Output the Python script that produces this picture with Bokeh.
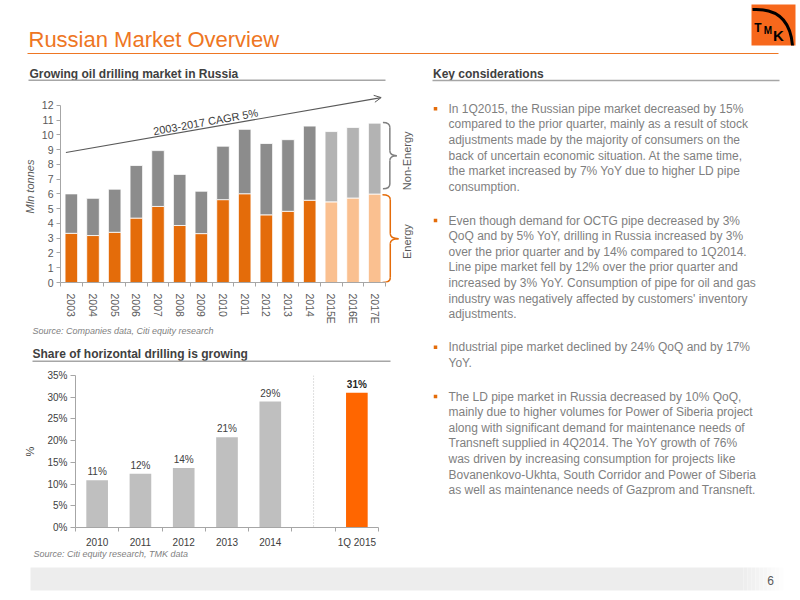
import math
from bokeh.plotting import figure
from bokeh.layouts import column, row
from bokeh.models import Range1d, FixedTicker, Span, Arrow, OpenHead, PrintfTickFormatter
from bokeh.core.properties import value
from bokeh.embed import file_html
from bokeh.resources import INLINE

FONT = "Liberation Sans"

# ---------------- data ----------------
years = ["2003", "2004", "2005", "2006", "2007", "2008", "2009", "2010",
         "2011", "2012", "2013", "2014", "2015E", "2016E", "2017E"]
energy = [3.33, 3.18, 3.40, 4.36, 5.15, 3.86, 3.31, 5.61, 6.01, 4.58, 4.82, 5.57, 5.46, 5.72, 5.99]
non_energy = [2.67, 2.52, 2.92, 3.56, 3.78, 3.46, 2.87, 3.62, 4.36, 4.83, 4.85, 5.02, 4.76, 4.78, 4.80]
y1_ticks = list(range(0, 13))

share_cats = ["2010", "2011", "2012", "2013", "2014", "", "1Q 2015"]
share_vals = [10.9, 12.4, 13.7, 20.8, 29.0, 31.0]
y2_ticks = list(range(0, 36, 5))

cagr_label = "2003-2017 CAGR 5%"

bullets = [
    ["In 1Q2015, the Russian pipe market decreased by 15%",
     "compared to the prior quarter, mainly as a result of stock",
     "adjustments made by the majority of consumers on the",
     "back of uncertain economic situation. At the same time,",
     "the market increased by 7% YoY due to higher LD pipe",
     "consumption."],
    ["Even though demand for OCTG pipe decreased by 3%",
     "QoQ and by 5% YoY, drilling in Russia increased by 3%",
     "over the prior quarter and by 14% compared to 1Q2014.",
     "Line pipe market fell by 12% over the prior quarter and",
     "increased by 3% YoY. Consumption of pipe for oil and gas",
     "industry was negatively affected by customers' inventory",
     "adjustments."],
    ["Industrial pipe market declined by 24% QoQ and by 17%",
     "YoY."],
    ["The LD pipe market in Russia decreased by 10% QoQ,",
     "mainly due to higher volumes for Power of Siberia project",
     "along with significant demand for maintenance needs of",
     "Transneft supplied in 4Q2014. The YoY growth of 76%",
     "was driven by increasing consumption for projects like",
     "Bovanenkovo-Ukhta, South Corridor and Power of Siberia",
     "as well as maintenance needs of Gazprom and Transneft."],
]

# ---------------- styles ----------------
TITLE_OR = "#EE7623"
HEAD = "#404040"
RULE = "#A6A6A6"
BODY = "#7F7F7F"
ORANGE = "#E46C0A"
ORANGE_LT = "#FAC090"
GRAY = "#8C8C8C"
GRAY_LT = "#B3B3B3"
BAR2 = "#BFBFBF"
BAR2_HI = "#FF6600"
TICK_C = "#595959"


def canvas(w, h):
    p = figure(width=w, height=h, x_range=Range1d(0, w), y_range=Range1d(h, 0),
               x_axis_type=None, y_axis_type=None, toolbar_location=None, tools="",
               output_backend="svg", min_border=0, frame_align=False)
    p.outline_line_color = None
    return p


def txt(p, x, y, s, size, color, style="normal", align="left", baseline="middle", angle=0.0):
    p.text(x=[x], y=[y], text=[s], text_font=value(FONT), text_font_size=f"{size}px",
           text_color=color, text_font_style=style, text_align=align,
           text_baseline=baseline, angle=angle)


# ---------------- header (page coordinates) ----------------
hdr = canvas(800, 86)
txt(hdr, 28, 38.5, "Russian Market Overview", 22, TITLE_OR)
hdr.line([27, 778], [53, 53], line_color=TITLE_OR, line_width=1)
# logo
hdr.quad(left=[751], right=[795], top=[4], bottom=[45], fill_color="#F7681C", line_color=None)
hdr.quadratic(x0=[752], y0=[9], x1=[792], y1=[45], cx=[789], cy=[7], line_color="black", line_width=3)
txt(hdr, 757.5, 27.5, "T", 12, "black", "bold", "center")
txt(hdr, 767.5, 30, "M", 10, "black", "bold", "center")
txt(hdr, 778, 35, "K", 15, "black", "bold", "center")
# section headings
txt(hdr, 29, 73, "Growing oil drilling market in Russia", 12, HEAD, "bold")
hdr.line([28, 385], [79.8, 79.8], line_color=RULE, line_width=1.5)
txt(hdr, 432.5, 73, "Key considerations", 12, HEAD, "bold")
hdr.line([432, 779], [80, 80], line_color=RULE, line_width=1.5)

# ---------------- chart 1 ----------------
n = len(years)
idx = list(range(n))
p1 = figure(width=420, height=240, x_range=Range1d(-0.5, 15.93), y_range=Range1d(0, 13),
            toolbar_location=None, tools="", output_backend="svg", frame_align=False,
            min_border_left=60, min_border_right=4, min_border_top=4, min_border_bottom=39)
p1.outline_line_color = None
p1.grid.visible = False

forecast = [y.endswith("E") for y in years]
e_col = [ORANGE_LT if f else ORANGE for f in forecast]
n_col = [GRAY_LT if f else GRAY for f in forecast]
tops = [e + ne for e, ne in zip(energy, non_energy)]
p1.vbar(x=idx, bottom=0, top=energy, width=0.58, fill_color=e_col, line_color="white", line_width=0.8)
p1.vbar(x=idx, bottom=energy, top=tops, width=0.58, fill_color=n_col, line_color="white", line_width=0.8)

xa = p1.xaxis[0]
xa.ticker = FixedTicker(ticks=idx, minor_ticks=[i - 0.5 for i in range(n + 1)])
xa.major_label_overrides = {i: y for i, y in enumerate(years)}
xa.major_label_orientation = "vertical"
xa.bounds = (-0.5, n - 0.5)
xa.major_tick_out = 0
xa.major_tick_in = 0
xa.minor_tick_out = 4
xa.minor_tick_in = 0
xa.major_label_standoff = 7
xa.axis_line_color = RULE
xa.minor_tick_line_color = RULE
xa.major_label_text_font = FONT
xa.major_label_text_font_size = "10.5px"
xa.major_label_text_color = TICK_C

ya = p1.yaxis[0]
ya.ticker = FixedTicker(ticks=y1_ticks, minor_ticks=[])
ya.bounds = (0, 12)
ya.major_tick_out = 4
ya.major_tick_in = 0
ya.minor_tick_out = 0
ya.major_label_standoff = 3
ya.axis_line_color = RULE
ya.major_tick_line_color = RULE
ya.major_label_text_font = FONT
ya.major_label_text_font_size = "10.5px"
ya.major_label_text_color = TICK_C
ya.axis_label = "Mln tonnes"
ya.axis_label_text_font = FONT
ya.axis_label_text_font_size = "11px"
ya.axis_label_text_font_style = "italic"
ya.axis_label_text_color = TICK_C
ya.axis_label_standoff = 3

# CAGR arrow and label
ARROW_C = "#595959"
ax0, ay0, ax1, ay1 = -0.25, 8.8, 14.3, 12.52
p1.add_layout(Arrow(end=OpenHead(size=7, line_color=ARROW_C, line_width=1),
                    x_start=ax0, y_start=ay0, x_end=ax1, y_end=ay1,
                    line_color=ARROW_C, line_width=1.2))
xpx = 356 / 16.43
ypx = 197 / 13
ang = math.atan2((ay1 - ay0) * ypx, (ax1 - ax0) * xpx)
tx = 6.2
ty = ay0 + (tx - ax0) / (ax1 - ax0) * (ay1 - ay0) + 0.43
txt(p1, tx, ty, cagr_label, 11, HEAD, align="center", angle=ang)


def brace(p, x0, x1, x2, top, bot, r, color):
    mid = (top + bot) / 2
    p.quadratic(x0=[x0, x1, x2, x1], y0=[top, mid + r, mid, bot + r],
                x1=[x1, x2, x1, x0], y1=[top - r, mid, mid - r, bot],
                cx=[x1, x1, x1, x1], cy=[top, mid, mid, bot],
                line_color=color, line_width=1.5)
    p.segment(x0=[x1, x1], y0=[top - r, mid - r], x1=[x1, x1], y1=[mid + r, bot + r],
              line_color=color, line_width=1.5)
    return mid


g_mid = brace(p1, 14.38, 14.7, 15.02, tops[-1] + 0.05, energy[-1] + 0.35, 0.33, "#808080")
o_mid = brace(p1, 14.36, 14.72, 15.1, energy[-1] - 0.05, 0, 0.33, ORANGE)
txt(p1, 15.49, g_mid - 0.35, "Non-Energy", 11, TICK_C, align="center", angle=math.pi / 2)
txt(p1, 15.49, o_mid - 0.2, "Energy", 11, TICK_C, align="center", angle=math.pi / 2)

# ---------------- strip between charts (page x, y - 326) ----------------
s1 = canvas(420, 40)
txt(s1, 32, 4.5, "Source: Companies data, Citi equity research", 9, BODY, "italic")
txt(s1, 32, 27, "Share of horizontal drilling is growing", 12, HEAD, "bold")
s1.line([32, 390], [34.7, 34.7], line_color=RULE, line_width=1.5)

# ---------------- chart 2 ----------------
m = len(share_cats)
p2 = figure(width=420, height=184, x_range=Range1d(-0.5, m - 0.5), y_range=Range1d(0, 35),
            toolbar_location=None, tools="", output_backend="svg", frame_align=False,
            min_border_left=75, min_border_right=42, min_border_top=9, min_border_bottom=17)
p2.outline_line_color = None
p2.grid.visible = False

pos = [i for i, c in enumerate(share_cats) if c]
cols = [BAR2] * (len(pos) - 1) + [BAR2_HI]
blank = share_cats.index("")
p2.add_layout(Span(location=blank, dimension="height", line_color="#BFBFBF",
                   line_dash="1 2", line_width=1))
p2.vbar(x=pos, top=share_vals, width=0.5, fill_color=cols, line_color=None)
labels = [f"{round(v)}%" for v in share_vals]
p2.text(x=pos[:-1], y=share_vals[:-1], text=labels[:-1], text_font=value(FONT),
        text_font_size="10px", text_color=HEAD, text_align="center",
        text_baseline="bottom", y_offset=-3)
p2.text(x=pos[-1:], y=share_vals[-1:], text=labels[-1:], text_font=value(FONT),
        text_font_size="10px", text_color="#262626", text_font_style="bold",
        text_align="center", text_baseline="bottom", y_offset=-3)

xb = p2.xaxis[0]
xb.ticker = FixedTicker(ticks=list(range(m)), minor_ticks=[i - 0.5 for i in range(m + 1)])
xb.major_label_overrides = {i: c for i, c in enumerate(share_cats)}
xb.bounds = (-0.5, m - 0.5)
xb.major_tick_out = 0
xb.major_tick_in = 0
xb.minor_tick_out = 4
xb.minor_tick_in = 0
xb.major_label_standoff = 5
xb.axis_line_color = RULE
xb.minor_tick_line_color = RULE
xb.major_label_text_font = FONT
xb.major_label_text_font_size = "10px"
xb.major_label_text_color = HEAD

yb = p2.yaxis[0]
yb.ticker = FixedTicker(ticks=y2_ticks, minor_ticks=[])
yb.formatter = PrintfTickFormatter(format="%d%%")
yb.major_tick_out = 5
yb.major_tick_in = 0
yb.minor_tick_out = 0
yb.major_label_standoff = 3
yb.axis_line_color = RULE
yb.major_tick_line_color = RULE
yb.major_label_text_font = FONT
yb.major_label_text_font_size = "10px"
yb.major_label_text_color = HEAD
yb.axis_label = "%"
yb.axis_label_text_font = FONT
yb.axis_label_text_font_size = "11px"
yb.axis_label_text_font_style = "normal"
yb.axis_label_text_color = HEAD
yb.axis_label_standoff = 8

# ---------------- right text (page x - 420, page y - 86) ----------------
rt = canvas(380, 464)
starts = [22.3, 134, 260.7, 310]
LH = 15.6
for st, lines in zip(starts, bullets):
    rt.scatter(x=[15], y=[st], marker="square", size=3.5, fill_color=ORANGE, line_color=None)
    rt.text(x=[28] * len(lines), y=[st + i * LH for i in range(len(lines))], text=lines,
            text_font=value(FONT), text_font_size="12px", text_color=BODY,
            text_align="left", text_baseline="middle")

# ---------------- footer (page x, page y - 550) ----------------
ft = canvas(800, 50)
txt(ft, 33, 3.5, "Source: Citi equity research, TMK data", 9, BODY, "italic")
ft.quad(left=[30], right=[743], top=[17], bottom=[40], fill_color="#EDEDED", line_color=None)
steps = 10
for k in range(steps):
    c = int(0xED + (0xFF - 0xED) * (k + 1) / (steps + 1))
    ft.quad(left=[743 + 4 * k], right=[747 + 4 * k], top=[17], bottom=[40],
            fill_color=f"#{c:02x}{c:02x}{c:02x}", line_color=None)
txt(ft, 770, 30, "6", 12, TICK_C, align="center")

layout = column(hdr, row(column(p1, s1, p2), rt), ft)

open("out.html", "w").write(file_html(layout, INLINE))
